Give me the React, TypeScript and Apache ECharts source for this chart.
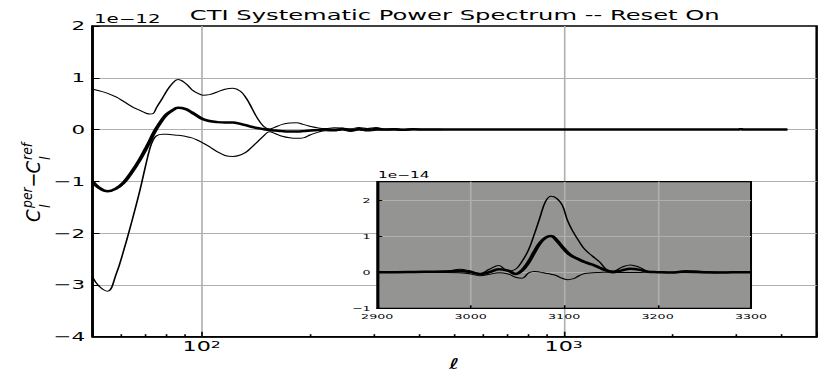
import React, { useEffect, useRef } from 'react';
import * as echarts from 'echarts';

// The reference is horizontally stretched; the chart is drawn narrower and scaled in x.
const K = 1.6488;
const BASE_W = 504;
const H = 381;
const FONT = 'DejaVu Sans';

const TITLE = 'CTI Systematic Power Spectrum -- Reset On';
const MAIN_OFFSET = '1e\u221212';
const INSET_OFFSET = '1e\u221214';
const X_LABEL = '\u2113';

const X_MIN = 50;
const X_MAX = 5000;
const Y_MIN = -4;
const Y_MAX = 2;
const MINOR_TICKS = [60, 70, 80, 90, 200, 300, 400, 500, 600, 700, 800, 900, 2000, 3000, 4000];

// Main curves, units of 1e-12
const ELL = [50, 52, 55, 58, 61, 64, 67.5, 70, 72, 73.5, 75, 78, 80, 83, 86, 90, 94, 97, 101, 105,
  110, 116, 122, 128, 133, 138, 142, 148, 154, 160, 167, 175, 183, 191, 200, 210, 220, 232, 245, 258,
  272, 287, 303, 320, 340, 360, 385, 410, 440, 470, 500, 600, 800, 1100, 1500, 2000, 2500];
const MEAN = [-1.01, -1.12, -1.19, -1.14, -1.02, -0.83, -0.58, -0.38, -0.22, -0.09, 0.02, 0.2, 0.29, 0.37, 0.42, 0.4, 0.33, 0.27, 0.2, 0.165,
  0.145, 0.135, 0.135, 0.11, 0.08, 0.05, 0.03, 0.01, -0.01, -0.02, -0.03, -0.035, -0.035, -0.03, -0.02, -0.01, 0.0, -0.005, 0.01, -0.01,
  0.01, -0.005, 0.01, 0.0, 0.005, -0.005, 0.005, 0, 0, 0, 0, 0, 0, 0, 0, 0, 0];
const UPPER = [0.78, 0.75, 0.7, 0.63, 0.54, 0.45, 0.37, 0.32, 0.3, 0.31, 0.42, 0.61, 0.74, 0.89, 0.965, 0.9, 0.77, 0.71, 0.665, 0.675,
  0.72, 0.78, 0.8, 0.74, 0.6, 0.4, 0.24, 0.07, 0.01, 0.05, 0.1, 0.125, 0.13, 0.1, 0.06, 0.03, 0.02, 0.035, 0.03, 0.015,
  0.04, 0.02, 0.04, 0.01, 0.02, 0.005, 0.015, 0.005, 0.008, 0, 0, 0, 0, 0, 0, 0, 0];
const LOWER = [-2.85, -3.02, -3.12, -2.8, -2.32, -1.8, -1.18, -0.7, -0.36, -0.2, -0.12, -0.09, -0.09, -0.1, -0.11, -0.13, -0.16, -0.2, -0.26, -0.33,
  -0.42, -0.5, -0.52, -0.49, -0.43, -0.33, -0.25, -0.13, -0.04, -0.08, -0.13, -0.16, -0.17, -0.16, -0.1, -0.05, -0.025, -0.03, -0.01, -0.035,
  -0.01, -0.03, -0.015, -0.01, -0.01, -0.015, -0.005, -0.005, -0.005, 0, 0, 0, 0, 0, 0, 0, 0];
const TAIL_ELL = [3600, 4150];
const TAIL_MEAN = [0, 0];
const TAIL_UPPER = [0, 0];
const TAIL_LOWER = [0, 0];

// Inset curves, units of 1e-14
const INSET_TO_MAIN = 0.01;
const INSET_ELL = [2900, 2920, 2940, 2960, 2975, 2988, 3000, 3010, 3020, 3030, 3040, 3048, 3055, 3062, 3068, 3074, 3080, 3086, 3092, 3098,
  3104, 3110, 3116, 3122, 3130, 3138, 3146, 3153, 3162, 3171, 3180, 3190, 3200, 3215, 3230, 3250, 3270, 3290, 3300];
const INSET_MEAN = [0, 0, 0.005, 0.01, 0.015, 0.03, 0.0, -0.05, 0.0, 0.08, 0.04, -0.05, 0.05, 0.28, 0.55, 0.8, 0.95, 1.0, 0.88, 0.7,
  0.53, 0.42, 0.35, 0.28, 0.21, 0.12, 0.04, 0.0, 0.05, 0.09, 0.07, 0.01, 0.0, -0.01, 0.02, 0.0, -0.01, 0.0, 0.0];
const INSET_UPPER = [0, 0, 0.01, 0.02, 0.03, 0.08, 0.03, -0.04, 0.08, 0.18, 0.03, 0.08, 0.3, 0.62, 1.04, 1.5, 1.95, 2.1, 2.04, 1.85,
  1.4, 1.1, 0.85, 0.63, 0.45, 0.28, 0.06, 0.03, 0.14, 0.2, 0.14, 0.02, 0, 0, 0.04, 0.01, 0, 0.01, 0];
const INSET_LOWER = [0, 0, 0, -0.01, -0.01, -0.02, -0.05, -0.1, -0.06, -0.02, -0.05, -0.14, -0.17, -0.02, 0.02, 0, -0.03, -0.06, -0.1, -0.17,
  -0.21, -0.18, -0.1, -0.04, -0.02, -0.01, 0, -0.01, -0.01, -0.01, -0.01, 0, 0, -0.01, -0.01, -0.02, -0.01, 0, 0];

const INSET_X_MIN = 2900;
const INSET_X_MAX = 3300;
const INSET_Y_MIN = -1;
const INSET_Y_MAX = 2.5;

const mainPoints = (coarse: number[], inset: number[], tail: number[]) => [
  ...ELL.map((l, i) => [l, coarse[i]]),
  ...INSET_ELL.map((l, i) => [l, inset[i] * INSET_TO_MAIN]),
  ...TAIL_ELL.map((l, i) => [l, tail[i]]),
];
const insetPoints = (vals: number[]) => INSET_ELL.map((l, i) => [l, vals[i]]);

const fmtMinus = (v: number) => (v < 0 ? '\u2212' + Math.abs(v) : String(v));

export default function App() {
  const ref = useRef<HTMLDivElement>(null);
  useEffect(() => {
    if (!ref.current) return;
    const chart = echarts.init(ref.current, undefined, { renderer: 'svg' });
    const lineCommon = { type: 'line', showSymbol: false, symbol: 'none', smooth: 0.4, silent: true };
    const t = (text: string, x: number, y: number, size: number, italic = true) => ({
      type: 'text', x, y,
      style: { text, fontFamily: FONT, fontStyle: italic ? 'italic' : 'normal', fontSize: size, fill: '#000', align: 'left', verticalAlign: 'middle' },
    });
    const option: any = {
      animation: false,
      backgroundColor: '#ffffff',
      grid: [
        { left: 56.2, right: 8.7, top: 26, bottom: 44.3, show: true, borderColor: '#000', borderWidth: 1.5, backgroundColor: 'transparent', z: 0 },
        { left: 228.8, width: 226.7, top: 181.7, height: 126.6, show: true, borderColor: '#000', borderWidth: 1.2, backgroundColor: '#949492', z: 3 },
      ],
      xAxis: [
        {
          type: 'log', logBase: 10, min: X_MIN, max: X_MAX, gridIndex: 0, z: 0,
          axisLine: { show: true, onZero: false, lineStyle: { color: '#000', width: 1.5 } },
          axisTick: { show: true, inside: true, length: 5, lineStyle: { color: '#000', width: 1 } },
          axisLabel: {
            color: '#000', fontFamily: FONT, fontSize: 13.5, margin: 2.5,
            formatter: (v: number) => {
              const lg = Math.log10(v);
              if (Math.abs(lg - Math.round(lg)) < 1e-6) return '10{s|' + Math.round(lg) + '}';
              return '';
            },
            rich: { s: { fontSize: 9.5, fontFamily: FONT, color: '#000', verticalAlign: 'top' } },
          },
          splitLine: { show: true, showMinLine: false, showMaxLine: false, lineStyle: { color: '#b0b0b0', width: 1 } },
        },
        {
          type: 'value', min: INSET_X_MIN, max: INSET_X_MAX, interval: 100, gridIndex: 1, z: 3,
          axisLine: { show: true, onZero: false, lineStyle: { color: '#000', width: 1.2 } },
          axisTick: { show: true, inside: true, length: 3, lineStyle: { color: '#000', width: 1 } },
          axisLabel: { color: '#000', fontFamily: FONT, fontSize: 7.7, margin: 3.5, formatter: (v: number) => String(v) },
          splitLine: { show: true, showMinLine: false, showMaxLine: false, lineStyle: { color: '#b0b0b0', width: 1 } },
        },
      ],
      yAxis: [
        {
          type: 'value', min: Y_MIN, max: Y_MAX, interval: 1, gridIndex: 0, z: 0,
          axisLine: { show: true, onZero: false, lineStyle: { color: '#000', width: 1.5 } },
          axisTick: { show: true, inside: true, length: 4.2, lineStyle: { color: '#000', width: 1 } },
          axisLabel: { color: '#000', fontFamily: FONT, fontSize: 13, margin: 4.5, formatter: fmtMinus },
          splitLine: { show: true, showMinLine: false, showMaxLine: false, lineStyle: { color: '#b0b0b0', width: 1 } },
        },
        {
          type: 'value', min: INSET_Y_MIN, max: INSET_Y_MAX, interval: 1, gridIndex: 1, z: 3,
          axisLine: { show: true, onZero: false, lineStyle: { color: '#000', width: 1.2 } },
          axisTick: { show: true, inside: true, length: 3, lineStyle: { color: '#000', width: 1 } },
          axisLabel: {
            color: '#000', fontFamily: FONT, fontSize: 7.7, margin: 4,
            formatter: (v: number) => (Number.isInteger(v) ? fmtMinus(v) : ''),
          },
          splitLine: { show: true, showMinLine: false, showMaxLine: false, lineStyle: { color: '#b0b0b0', width: 1 } },
        },
      ],
      series: [
        { ...lineCommon, name: 'upper', xAxisIndex: 0, yAxisIndex: 0, z: 2, lineStyle: { color: '#000', width: 1 }, data: mainPoints(UPPER, INSET_UPPER, TAIL_UPPER) },
        { ...lineCommon, name: 'lower', xAxisIndex: 0, yAxisIndex: 0, z: 2, lineStyle: { color: '#000', width: 1 }, data: mainPoints(LOWER, INSET_LOWER, TAIL_LOWER) },
        { ...lineCommon, name: 'mean', xAxisIndex: 0, yAxisIndex: 0, z: 2, lineStyle: { color: '#000', width: 2.5 }, data: mainPoints(MEAN, INSET_MEAN, TAIL_MEAN) },
        { ...lineCommon, name: 'upper inset', xAxisIndex: 1, yAxisIndex: 1, z: 4, clip: true, lineStyle: { color: '#000', width: 1 }, data: insetPoints(INSET_UPPER) },
        { ...lineCommon, name: 'lower inset', xAxisIndex: 1, yAxisIndex: 1, z: 4, clip: true, lineStyle: { color: '#000', width: 1 }, data: insetPoints(INSET_LOWER) },
        { ...lineCommon, name: 'mean inset', xAxisIndex: 1, yAxisIndex: 1, z: 4, clip: true, lineStyle: { color: '#000', width: 2.5 }, data: insetPoints(INSET_MEAN) },
        {
          type: 'custom', name: 'minor ticks', xAxisIndex: 0, yAxisIndex: 0, z: 1, silent: true, clip: false,
          data: MINOR_TICKS.map((v) => [v, Y_MIN]),
          renderItem: (params: any, api: any) => {
            const p = api.coord([api.value(0), api.value(1)]);
            return { type: 'line', shape: { x1: p[0], y1: p[1], x2: p[0], y2: p[1] - 2.5 }, style: { stroke: '#000', lineWidth: 1 } };
          },
        },
      ],
      graphic: [
        { type: 'text', x: 275.8, y: 15, style: { text: TITLE, fontFamily: FONT, fontSize: 14.7, fill: '#000', align: 'center', verticalAlign: 'middle' } },
        { type: 'text', x: 57, y: 19.2, style: { text: MAIN_OFFSET, fontFamily: FONT, fontSize: 12, fill: '#000', align: 'left', verticalAlign: 'middle' } },
        { type: 'text', x: 229.3, y: 175, z: 10, style: { text: INSET_OFFSET, fontFamily: FONT, fontSize: 9.3, fill: '#000', align: 'left', verticalAlign: 'middle' } },
        { type: 'text', x: 275.4, y: 364, style: { text: X_LABEL, fontFamily: FONT, fontStyle: 'italic', fontSize: 15, fill: '#000', align: 'center', verticalAlign: 'middle' } },
        {
          type: 'group', x: 33 / K, y: 222, rotation: Math.PI / 2, scaleY: 0.68,
          children: [
            t('C', 0, 0, 18),
            t('per', 14, -5.5, 12.5),
            t('l', 14, 11, 12.5),
            t('\u2212', 34.5, 0, 18, false),
            t('C', 48.5, 0, 18),
            t('ref', 62, -5.5, 12.5),
            t('l', 62, 11, 12.5),
          ],
        },
      ],
    };
    chart.setOption(option);
    return () => chart.dispose();
  }, []);
  return (
    <div style={{ position: 'fixed', left: 0, top: 0, width: 831, height: H, overflow: 'hidden', background: '#fff' }}>
      <div ref={ref} style={{ width: BASE_W, height: H, transform: `scaleX(${K})`, transformOrigin: '0 0' }} />
    </div>
  );
}
